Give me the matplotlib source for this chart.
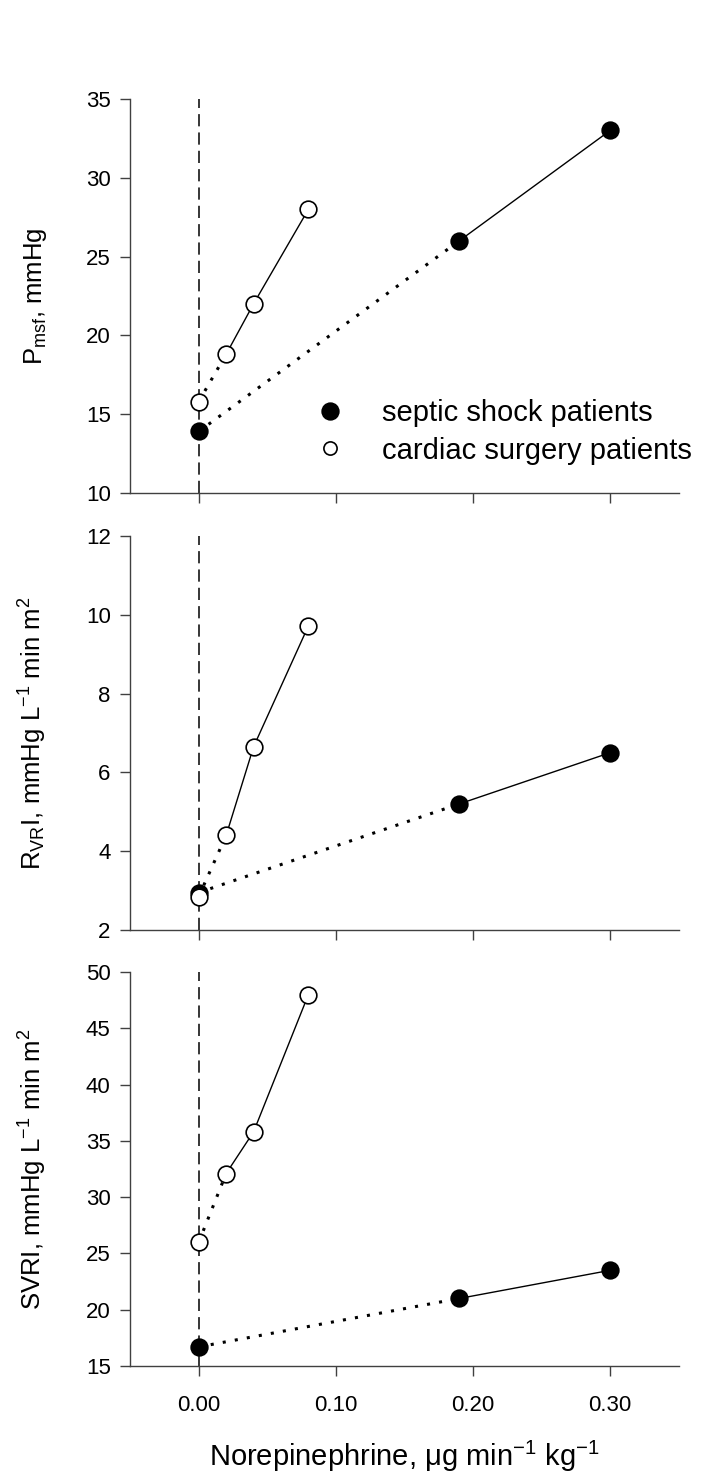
import matplotlib
matplotlib.use("Agg")
import matplotlib.pyplot as plt
from matplotlib.lines import Line2D

plt.rcParams['font.family'] = ['Liberation Sans', 'DejaVu Sans']
plt.rcParams['mathtext.fontset'] = 'custom'
plt.rcParams['mathtext.rm'] = 'Liberation Sans'
plt.rcParams['mathtext.it'] = 'Liberation Sans:italic'

# norepinephrine dose
septic_x = [0.0, 0.19, 0.30]
cardiac_x = [0.0, 0.02, 0.04, 0.08]

# Pmsf, mmHg
pmsf_septic = [13.9, 26.0, 33.0]
pmsf_cardiac = [15.8, 18.8, 22.0, 28.0]
# RVRI
rvri_septic = [2.95, 5.2, 6.5]
rvri_cardiac = [2.85, 4.4, 6.65, 9.72]
# SVRI
svri_septic = [16.7, 21.0, 23.5]
svri_cardiac = [26.0, 32.1, 35.8, 48.0]

panels = [
    (pmsf_septic, pmsf_cardiac, (10, 35), [10, 15, 20, 25, 30, 35], r'P$_{\mathregular{msf}}$, mmHg'),
    (rvri_septic, rvri_cardiac, (2, 12), [2, 4, 6, 8, 10, 12],
     r'R$_{\mathregular{VR}}$I, mmHg L$^{\mathregular{-1}}$ min m$^{\mathregular{2}}$'),
    (svri_septic, svri_cardiac, (15, 50), [15, 20, 25, 30, 35, 40, 45, 50],
     r'SVRI, mmHg L$^{\mathregular{-1}}$ min m$^{\mathregular{2}}$'),
]
xticks = [0.0, 0.10, 0.20, 0.30]
xticklabels = ['0.00', '0.10', '0.20', '0.30']

fig = plt.figure(figsize=(7.19, 14.79), dpi=100)
rects = [(0.181, 0.6667, 0.763, 0.2664), (0.181, 0.3712, 0.763, 0.2664), (0.181, 0.0764, 0.763, 0.2664)]
axc = '#404040'

for i, ((ys, yc, ylim, yt, ylab), r) in enumerate(zip(panels, rects)):
    ax = fig.add_axes(r)
    ax.axvline(0, color='black', ls=(0, (8, 4)), lw=1.1, zorder=1)
    mk = dict(marker='o', ms=12, mec='black', mew=1.2, ls='none', zorder=4)
    # dotted from baseline to first dose, solid after
    ax.plot(septic_x[:2], ys[:2], color='black', ls=(0, (1, 3)), lw=2.2, zorder=2)
    ax.plot(septic_x[1:], ys[1:], color='black', lw=1.0, zorder=2)
    ax.plot(cardiac_x[:2], yc[:2], color='black', ls=(0, (1, 3)), lw=2.2, zorder=2)
    ax.plot(cardiac_x[1:], yc[1:], color='black', lw=1.0, zorder=2)
    ax.plot(septic_x, ys, mfc='black', **mk)
    ax.plot(cardiac_x, yc, mfc='white', **mk)
    ax.set_xlim(-0.05, 0.35)
    ax.set_ylim(*ylim)
    ax.set_yticks(yt)
    ax.set_xticks(xticks)
    if i == 2:
        ax.set_xticklabels(xticklabels)
        ax.set_xlabel(r'Norepinephrine, $\mathregular{\mu}$g min$^{\mathregular{-1}}$ kg$^{\mathregular{-1}}$', fontsize=21)
        ax.xaxis.set_label_coords(0.5, -0.185)
    else:
        ax.set_xticklabels([])
    ax.set_ylabel(ylab, fontsize=18.5)
    ax.yaxis.set_label_coords(-0.148, 0.5)
    for s in ['top', 'right']:
        ax.spines[s].set_visible(False)
    for s in ['left', 'bottom']:
        ax.spines[s].set_color(axc)
        ax.spines[s].set_linewidth(1.0)
    ax.tick_params(direction='out', length=7, width=1.0, color=axc, pad=7, labelsize=16)
    ax.tick_params(axis='x', pad=14)
    if i == 0:
        handles = [Line2D([], [], marker='o', ls='none', ms=12, mfc='black', mec='black', mew=1.2),
                   Line2D([], [], marker='o', ls='none', ms=9.5, mfc='white', mec='black', mew=1.2)]
        ax.legend(handles, ['septic shock patients', 'cardiac surgery patients'], frameon=False,
                  loc='lower left', bbox_to_anchor=(0.312, 0.035), fontsize=21,
                  handlelength=1.0, handletextpad=1.25, labelspacing=0.32, borderpad=0)

fig.savefig('out.png', dpi=100)
